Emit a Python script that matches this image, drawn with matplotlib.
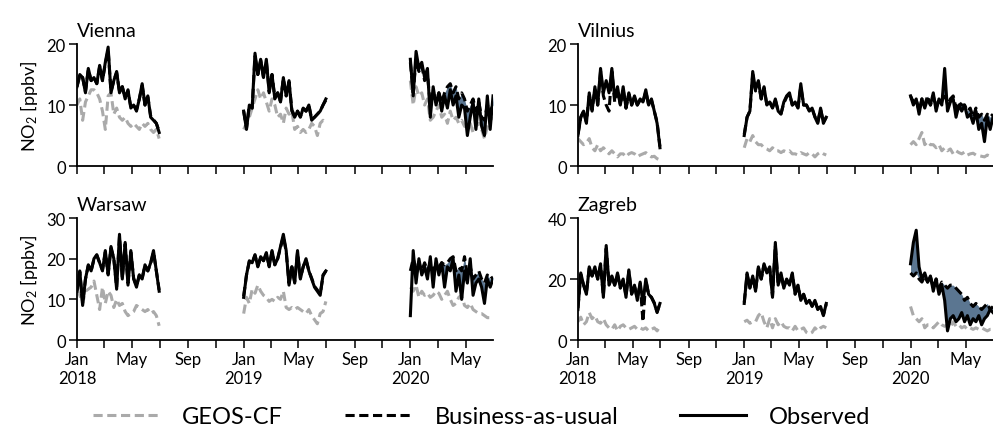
import numpy as np
import pandas as pd
import matplotlib
matplotlib.use("Agg")
import matplotlib.pyplot as plt
import matplotlib.dates as mdates

plt.rcParams['font.family'] = ['Lato', 'DejaVu Sans']
plt.rcParams['mathtext.fontset'] = 'custom'
plt.rcParams['mathtext.rm'] = 'Lato'
plt.rcParams['mathtext.it'] = 'Lato:italic'
plt.rcParams['mathtext.bf'] = 'Lato:bold'

years = [2018, 2019, 2020]
cities = ["Vienna", "Vilnius", "Warsaw", "Zagreb"]
ylims = {"Vienna": 20, "Vilnius": 20, "Warsaw": 30, "Zagreb": 40}
yticks = {"Vienna": [0, 10, 20], "Vilnius": [0, 10, 20], "Warsaw": [0, 10, 20, 30], "Zagreb": [0, 20, 40]}

# ---- Observed NO2 (ppbv), ~6-day samples Jan 1 - Jun 30 ----
vienna_obs_2018 = [13, 15, 14.5, 12, 16, 14, 14.5, 13.5, 16.5, 14, 17, 19.5, 12, 14, 15.5, 12, 13, 11, 12.5, 9.5, 10, 9, 11, 13.5, 10, 11.5, 8, 7.5, 7, 5.5]
vienna_obs_2019 = [9, 6, 10, 9.5, 18.5, 15, 17.5, 14.5, 17.5, 12, 15, 11, 12, 10.5, 14.5, 11.5, 14, 9, 8, 9, 8, 9.5, 9, 10, 7.5, 8, 8.5, 9, 10, 11]
vienna_obs_2020 = [17.5, 11.5, 18.8, 16, 17, 14.5, 16, 8, 13, 10, 12, 9, 11.5, 9.5, 12.5, 10, 11.5, 8, 10, 9.5, 5, 8, 10.5, 6, 11, 6.5, 5, 11.5, 6, 11.5]
vilnius_obs_2018 = [5, 8, 9, 7, 12, 9, 13, 10, 16, 12, 14, 12, 16, 11, 13, 10, 13, 9.5, 12, 10, 11.5, 10, 11, 10.5, 12.5, 10, 11, 9, 7, 3]
vilnius_obs_2019 = [5, 8, 9, 15.5, 12.5, 14, 11, 13, 10, 10.5, 9.5, 11, 9, 8.5, 10.5, 11.5, 12, 10, 10.5, 9.5, 13.5, 10, 10, 9, 9.5, 8, 7, 9.5, 7, 8]
vilnius_obs_2020 = [11.5, 10, 11, 8.5, 11, 9.5, 11, 10, 12, 9, 11, 10, 16, 9, 10.5, 11, 8, 10, 9, 10, 8, 8.5, 7, 9, 6, 7, 4, 8, 6, 8]
warsaw_obs_2018 = [12, 17, 8.5, 15, 18.5, 17, 20, 21, 19, 17, 22, 16, 23, 20, 12.5, 26, 15, 24, 13.5, 22, 15, 13, 16, 15, 18.5, 17, 19, 22, 17, 12]
warsaw_obs_2019 = [10.5, 16, 19.5, 19, 21, 18, 20.5, 19.5, 21.5, 18, 22, 18.5, 20, 23, 26, 22, 13.5, 18, 14, 22, 15, 18, 20, 17, 15, 13, 12, 11, 16, 17]
warsaw_obs_2020 = [6, 22, 14, 20, 16, 18, 15, 20.5, 13, 20, 16, 19, 13, 18, 17, 20, 12, 16, 10, 17, 14, 20, 11, 14, 15, 13, 9, 15, 13, 15]
zagreb_obs_2018 = [10, 22, 18, 15, 24, 21, 24, 20, 25, 14, 31, 18, 21, 18, 22, 17, 20, 14, 23, 15, 18, 13, 19, 12, 20, 15, 14, 12, 9, 12]
zagreb_obs_2019 = [12, 22, 17, 21, 16, 24, 20, 25, 22, 24, 14, 32, 18, 22, 17, 20, 18, 22, 15, 18, 13, 15, 12, 13, 11, 13, 10, 11, 8, 12]
zagreb_obs_2020 = [25, 32, 36, 24, 20, 22, 19, 21, 16, 20, 15, 18, 13, 3, 7, 8, 6, 7, 9, 6, 8, 5, 7, 6, 8, 5, 7, 8, 10, 9]

# ---- Business-as-usual NO2 (ppbv) ----
vienna_bau_2018 = [13, 14.8, 14.5, 12.2, 15.8, 14, 14.5, 13.5, 16.3, 14, 16.8, 19, 12.2, 14, 15.3, 12.2, 13, 11.2, 12.3, 9.7, 10, 9.2, 11, 13.2, 10, 11.3, 8.2, 7.6, 7, 5.7]
vienna_bau_2019 = [9, 6.2, 10, 9.5, 18, 15, 17.3, 14.5, 17.2, 12.2, 15, 11.2, 12, 10.6, 14.3, 11.5, 13.8, 9.2, 8.2, 9, 8.1, 9.4, 9, 10, 7.7, 8, 8.5, 9, 10, 10.8]
vienna_bau_2020 = [17, 12, 17.5, 15.5, 16.5, 14, 15, 10, 12, 10.5, 12, 10.5, 12, 13, 13.5, 12, 13, 11, 12, 11, 9, 10, 11, 9, 10.5, 8, 7.5, 10, 9, 10]
vilnius_bau_2018 = [5.2, 8, 9, 7.2, 11.5, 9.2, 12.5, 10, 15.5, 11.5, 10, 9, 15.5, 10.5, 12.5, 10, 12.5, 9.5, 11.8, 10, 11.3, 10, 10.8, 10.5, 12.2, 10, 10.8, 9, 7.2, 3.2]
vilnius_bau_2019 = [5.2, 8, 9, 15, 12.3, 13.8, 11, 12.8, 10, 10.5, 9.6, 10.8, 9, 8.6, 10.3, 11.3, 11.8, 10, 10.4, 9.6, 13, 10, 10, 9.1, 9.4, 8.1, 7.2, 9.3, 7.2, 8]
vilnius_bau_2020 = [11.5, 10.5, 11, 9, 11, 10, 11.5, 10, 11.5, 9.5, 11, 10.5, 12, 10, 11, 11.5, 9.5, 10.5, 10, 10, 9, 9.5, 8, 9.5, 8, 8.5, 7.5, 8.5, 8, 8.5]
warsaw_bau_2018 = [12.2, 16.8, 9, 15, 18.3, 17, 19.8, 20.8, 19, 17.2, 21.6, 16.2, 22.6, 20, 13, 25.5, 15.2, 23.6, 14, 21.6, 15.2, 13.3, 16, 15.2, 18.3, 17, 18.8, 21.6, 17, 12.3]
warsaw_bau_2019 = [10.8, 16, 19.3, 19, 20.8, 18.2, 20.3, 19.5, 21.2, 18.2, 21.7, 18.5, 20, 22.7, 25.5, 21.7, 14, 18, 14.3, 21.6, 15.2, 18, 19.7, 17, 15.2, 13.2, 12.3, 11.3, 15.8, 17]
warsaw_bau_2020 = [17, 20, 17.5, 19, 17, 19, 17, 19, 17, 18.5, 18, 19, 18.5, 19, 20, 20.5, 17, 18, 17, 20.5, 16, 18, 15, 16, 17, 15, 14, 16, 15, 15.5]
zagreb_bau_2018 = [10.5, 21.5, 18, 15.5, 23.5, 21, 23.5, 20, 24.5, 14.5, 30, 18, 20.8, 18, 21.5, 17.2, 19.8, 14.5, 22.5, 15.2, 17.8, 13.5, 18.5, 6, 19.5, 15, 14, 12.2, 9.3, 12]
zagreb_bau_2019 = [12.3, 21.5, 17.2, 20.8, 16.3, 23.5, 20, 24.5, 22, 23.5, 14.5, 31, 18, 21.7, 17.2, 19.8, 18, 21.6, 15.2, 17.8, 13.3, 15, 12.2, 13, 11.2, 12.8, 10.2, 11, 8.3, 11.8]
zagreb_bau_2020 = [22, 21, 22, 20, 19, 21, 19, 21, 17, 20, 17, 19, 18, 17, 18, 18, 17, 16, 15, 13, 14, 12, 11, 12, 11, 10, 11, 12, 10, 11]

# ---- GEOS-CF NO2 (ppbv) ----
vienna_geos_2018 = [10, 11, 7.5, 10.5, 11.5, 12.5, 12.5, 12, 11, 9, 6, 11.5, 12, 8.5, 9.5, 8, 7.5, 8, 7, 6.5, 7, 6.5, 6, 7, 6.5, 7, 6, 5.5, 6, 4.5]
vienna_geos_2019 = [6, 7, 8, 9.5, 11, 12.5, 11, 12, 10.5, 9, 11, 10, 8, 8.5, 7, 9.5, 8.5, 9, 6, 6.5, 5.5, 6, 5.5, 6, 7, 6.5, 5, 7, 7.5, 7]
vienna_geos_2020 = [14, 10, 13, 11.5, 12, 10, 11, 7.5, 8, 9, 10, 8, 8.5, 7, 9, 7.5, 8, 7, 7.5, 6.5, 6.5, 7, 5.5, 6.5, 7, 6, 4.5, 6.5, 7.5, 8]
vilnius_geos_2018 = [4.5, 4, 3.5, 3.8, 4.5, 3, 2.5, 3.5, 2.5, 3, 2.5, 2, 2.5, 2, 1.5, 2, 2, 1.5, 2, 2.2, 2, 1.5, 1.8, 2, 2.2, 1.8, 1.5, 1.6, 1.2, 1.0]
vilnius_geos_2019 = [3, 4.5, 4, 5, 4, 3.5, 3.5, 3, 2.8, 2.5, 3, 2.5, 2.5, 2.2, 2.5, 2.3, 2.5, 2, 2, 1.8, 2.2, 2, 1.8, 2.2, 2, 1.5, 2, 2.3, 2, 1.8]
vilnius_geos_2020 = [3.5, 4, 3.5, 4.5, 5.5, 3.5, 4, 3.5, 3.5, 3, 3.5, 2.5, 3, 2.5, 2.8, 2, 2.5, 2.2, 2, 2.3, 1.8, 2, 2.1, 1.8, 1.7, 1.6, 1.5, 1.8, 1.6, 1.5]
warsaw_geos_2018 = [12.5, 11, 9, 12, 12.5, 13, 14.5, 11, 7.5, 13, 9, 12, 11, 8, 10, 8.5, 9, 7, 6, 6.5, 7, 8.5, 8, 7.5, 7, 7.5, 6.5, 7, 6, 3.5]
warsaw_geos_2019 = [6.5, 10.5, 9, 12.5, 11.5, 13.5, 12, 11, 10.5, 9.5, 10, 9.5, 10.5, 10, 12, 8, 7.5, 8, 7.5, 8, 7.5, 7, 6.5, 7.5, 6, 5, 4, 6.5, 7, 9.5]
warsaw_geos_2020 = [13, 12, 13.5, 10.5, 12, 11, 11.5, 10.5, 11, 12, 11.5, 10, 11, 12, 10, 8.5, 9, 10.5, 11, 8.5, 8, 9, 7.5, 7, 6.5, 6.5, 6, 5.5, 5.5, 5]
zagreb_geos_2018 = [6, 7.5, 5, 6, 9, 7, 8, 6, 5.5, 7, 5, 4, 3.5, 5, 3, 4.5, 5, 4, 3.5, 4, 4.5, 3.5, 4, 3.5, 4, 3, 3.5, 4, 3, 4.5]
zagreb_geos_2019 = [6, 6.5, 5.5, 6, 6, 8, 9, 6, 4, 7, 4, 7, 5, 6, 4.5, 4, 4, 3, 4.5, 3, 3.5, 4, 2.5, 2, 2.5, 4, 3, 4, 4.5, 4]
zagreb_geos_2020 = [11, 8, 7, 6, 7, 4, 5, 5, 4, 5, 6, 5, 4.5, 5, 4, 6, 4.5, 5, 4, 4.5, 3.5, 4, 3.5, 4, 3.5, 4, 3.5, 3, 3.5, 3.5]

g = globals()
fill_color = "#5b7691"
geos_color = "#aaaaaa"

fig = plt.figure(figsize=(9.93, 4.35), dpi=100)
positions = {
    "Vienna": [0.0775, 0.616, 0.419, 0.2805],
    "Vilnius": [0.582, 0.616, 0.418, 0.2805],
    "Warsaw": [0.0775, 0.216, 0.419, 0.2805],
    "Zagreb": [0.582, 0.216, 0.418, 0.2805],
}

def date_fmt(x, pos=None):
    d = mdates.num2date(x)
    if d.month == 1:
        return d.strftime("%b") + "\n" + str(d.year)
    return d.strftime("%b")

handles = None
for city in cities:
    ax = fig.add_axes(positions[city])
    key = city.lower()
    for yr in years:
        dates = pd.date_range(f"{yr}-01-01", f"{yr}-06-30", periods=30)
        obs = np.array(g[f"{key}_obs_{yr}"], dtype=float)
        bau = np.array(g[f"{key}_bau_{yr}"], dtype=float)
        geos = np.array(g[f"{key}_geos_{yr}"], dtype=float)
        if yr == 2020:
            ax.fill_between(dates, obs, bau, color=fill_color, lw=0, zorder=1)
        h1, = ax.plot(dates, geos, color=geos_color, ls=(0, (3, 1.5)), lw=2.2, zorder=2)
        h3, = ax.plot(dates, obs, color="black", lw=2.2, zorder=3)
        h2, = ax.plot(dates, bau, color="black", ls=(0, (3, 1.5)), lw=2.2, zorder=4)
        handles = [h1, h2, h3]
    ax.set_xlim(pd.Timestamp("2018-01-01"), pd.Timestamp("2020-06-30"))
    ax.set_ylim(0, ylims[city])
    ax.set_yticks(yticks[city])
    ax.xaxis.set_major_locator(mdates.MonthLocator(bymonth=[1, 5, 9]))
    ax.xaxis.set_minor_locator(mdates.MonthLocator(bymonth=[3, 7, 11]))
    ax.xaxis.set_major_formatter(plt.FuncFormatter(date_fmt))
    ax.tick_params(axis='both', which='both', length=6, width=1.1, labelsize=12, direction='out', pad=2)
    for s in ["top", "right"]:
        ax.spines[s].set_visible(False)
    for s in ["left", "bottom"]:
        ax.spines[s].set_linewidth(1.3)
    ax.text(0.0, 1.04, city, transform=ax.transAxes, fontsize=14, ha='left', va='bottom')
    if city in ("Vienna", "Vilnius"):
        ax.set_xticklabels([])
    if city in ("Vienna", "Warsaw"):
        ax.set_ylabel("NO$_2$ [ppbv]", fontsize=13, labelpad=5)

fig.legend(handles, ["GEOS-CF", "Business-as-usual", "Observed"], loc='center',
           bbox_to_anchor=(0.485, 0.04), ncol=3, frameon=False, fontsize=17,
           handlelength=2.8, columnspacing=2.6, handletextpad=1.0)

fig.savefig("out.png", dpi=100)
